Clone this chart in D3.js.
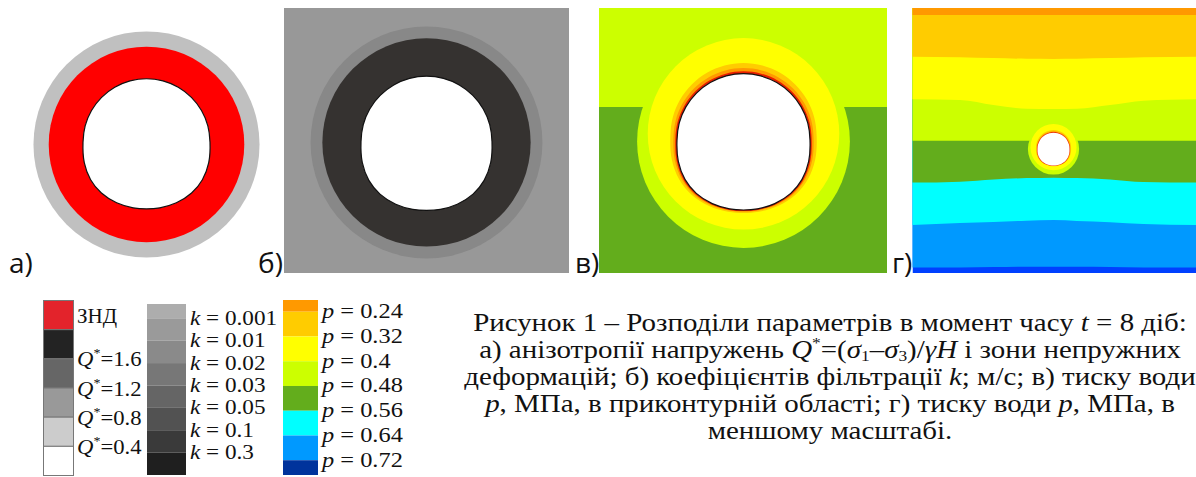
<!DOCTYPE html>
<html lang="uk">
<head>
<meta charset="utf-8">
<title>Рисунок 1</title>
<script src="https://cdn.jsdelivr.net/npm/d3@7"></script>
<style>
  body { margin: 0; background: #fff; }
  svg { display: block; }
  .serif { fill: #111; }
  .plabel { font-size: 28px; fill: #111; }
</style>
</head>
<body>
<svg id="fig" width="1196" height="477"></svg>
<script>
var SERIF = "Liberation Serif";
var SANS = "Open Sans";

// tunnel profile, right half from crown to invert (model units, y up)
var profileHalf = [[0, 1.02], [0.259, 0.986], [0.5, 0.886], [0.707, 0.727], [0.866, 0.52], [0.966, 0.279],
  [1.0, 0.02], [0.98, -0.3], [0.88, -0.57], [0.71, -0.78], [0.47, -0.934], [0.21, -1.013], [0, -1.03]];

// а) Q* zones around the opening (radius in profile units, centre shift)
var aZones = ["Q04", "ZND"];
var aZoneR = [1.78, 1.54];
var aZoneShift = [-0.015, -0.015];

// б) filtration zones
var bZones = ["k2", "k7"];
var bZoneR = [1.77, 1.59];
var bZoneShift = [0.008, 0.008];

// в) pressure zones near the contour: round zones, then thin bands that follow the profile
var vRings = ["p048", "p040"];
var vRingR = [1.6, 1.44];
var vRingShift = [0, 0.115];
var vBands = ["p032", "p024", "p016"];
var vBandSize = [1.1, 1.054, 1.025];
var vBandShift = [0.058, 0.03, 0.01];

// г) isobars, y of each level at the sample x positions
var isoX = [-9, -5.84, -3.76, -1.68, 0, 1.46, 3.54, 5.63, 9];
var isoLevels = [0.24, 0.32, 0.4, 0.48, 0.56, 0.64, 0.72];
var iso024 = [8.38, 8.38, 8.38, 8.38, 8.38, 8.38, 8.38, 8.38, 8.38];
var iso032 = [5.77, 5.74, 5.68, 5.64, 5.63, 5.64, 5.68, 5.74, 5.77];
var iso040 = [3.11, 3.06, 2.75, 2.52, 2.5, 2.52, 2.75, 3.02, 3.11];
var iso048 = [0.52, 0.52, 0.52, 0.52, 0.52, 0.52, 0.52, 0.52, 0.52];
var iso056 = [-2.1, -2.04, -1.9, -1.82, -1.79, -1.82, -1.9, -2.06, -2.1];
var iso064 = [-4.75, -4.63, -4.56, -4.48, -4.44, -4.5, -4.58, -4.69, -4.75];
var iso072 = [-7.4, -7.4, -7.38, -7.36, -7.36, -7.36, -7.38, -7.4, -7.4];
var isoY = [iso024, iso032, iso040, iso048, iso056, iso064, iso072];

// legends
var qLabels = ["1.6", "1.2", "0.8", "0.4"];
var kLabels = ["0.001", "0.01", "0.02", "0.03", "0.05", "0.1", "0.3"];
var pLabels = ["0.24", "0.32", "0.4", "0.48", "0.56", "0.64", "0.72"];

// colours
var aColor = d3.scaleOrdinal().domain(aZones).range(["#c0c0c0", "#ff0000"]);
var bColor = d3.scaleOrdinal().domain(bZones).range(["#888888", "#353230"]);
var vColor = d3.scaleOrdinal().domain(vRings.concat(vBands))
  .range(["#ccff00", "#ffff00", "#ffcc00", "#ff9900", "#e82000"]);
var pColors = ["#ff9900", "#ffcc00", "#ffff00", "#ccff00", "#63ad1c", "#00ffff", "#0099ff", "#0040ff"];
var pLegendColors = ["#ff9900", "#ffcc00", "#ffff00", "#ccff00", "#63ad1c", "#00ffff", "#0099ff", "#00339c"];
var qColors = ["#e3232b", "#232323", "#666666", "#999999", "#cccccc", "#ffffff"];
var kColors = ["#adadad", "#9a9a9a", "#8a8a8a", "#777777", "#656565", "#525252", "#3a3a3a", "#1f1f1f"];

var profile = profileHalf.concat(profileHalf.slice(1, -1).reverse().map(function(p) { return [-p[0], p[1]]; }));

var svg = d3.select("#fig");
var defs = svg.append("defs");

function panelScales(cx, cy, s) {
  return {
    x: d3.scaleLinear().domain([-1, 1]).range([cx - s, cx + s]),
    y: d3.scaleLinear().domain([-1, 1]).range([cy + s, cy - s])
  };
}

function shapePath(sc, size, shift) {
  return d3.line()
    .x(function(d) { return sc.x(d[0] * size); })
    .y(function(d) { return sc.y(d[1] * size + shift); })
    .curve(d3.curveCatmullRomClosed)(profile);
}

function rounds(g, sc, keys, radii, shifts, color) {
  g.selectAll("circle.zone").data(keys).enter().append("circle")
    .attr("class", "zone")
    .attr("cx", sc.x(0))
    .attr("cy", function(d, i) { return sc.y(shifts[i]); })
    .attr("r", function(d, i) { return sc.x(radii[i]) - sc.x(0); })
    .attr("fill", function(d) { return color(d); });
}

function panelGroup(id, x0, y0, x1, y1) {
  defs.append("clipPath").attr("id", id).append("rect")
    .attr("x", x0).attr("y", y0).attr("width", x1 - x0).attr("height", y1 - y0);
  return svg.append("g").attr("clip-path", "url(#" + id + ")");
}

function hole(g, sc, stroke) {
  g.append("path").attr("d", shapePath(sc, 1, 0))
    .attr("fill", "#fff")
    .attr("stroke", stroke ? "#111" : "none")
    .attr("stroke-width", 1.2);
}

// ---- а)
var scA = panelScales(146.5, 143.5, 63.5);
var gA = svg.append("g");
rounds(gA, scA, aZones, aZoneR, aZoneShift, aColor);
hole(gA, scA, true);

// ---- б)
var scB = panelScales(426.5, 143, 65.5);
var gB = panelGroup("clipB", 284, 8, 569, 273);
gB.append("rect").attr("x", 284).attr("y", 8).attr("width", 285).attr("height", 265).attr("fill", "#989898");
rounds(gB, scB, bZones, bZoneR, bZoneShift, bColor);
hole(gB, scB, true);

// isobar areas: each level fills everything above its line
function isobars(g, sc, x0, y0, x1, y1, levels) {
  g.append("rect").attr("x", x0).attr("y", y0).attr("width", x1 - x0).attr("height", y1 - y0)
    .attr("fill", pColors[levels[levels.length - 1] + 1]);
  levels.slice().reverse().forEach(function(li) {
    var area = d3.area()
      .x(function(d, i) { return sc.x(isoX[i]); })
      .y0(y0 - 5)
      .y1(function(d) { return sc.y(d); })
      .curve(d3.curveMonotoneX);
    g.append("path").attr("d", area(isoY[li])).attr("fill", pColors[li]);
  });
}

function pressureZones(g, sc) {
  rounds(g, sc, vRings, vRingR, vRingShift, vColor);
  g.selectAll("path.band").data(vBands).enter().append("path")
    .attr("class", "band")
    .attr("d", function(d, i) { return shapePath(sc, vBandSize[i], vBandShift[i]); })
    .attr("fill", function(d) { return vColor(d); });
}

// ---- в)
var scV = panelScales(743.5, 141.5, 66.5);
var gV = panelGroup("clipV", 599, 8, 887, 273);
isobars(gV, scV, 599, 8, 887, 273, [3]);
pressureZones(gV, scV);
hole(gV, scV, true);

// ---- г)
var scG = panelScales(1053.5, 149, 16);
var gG = panelGroup("clipG", 912.5, 8, 1196, 273);
isobars(gG, scG, 912.5, 8, 1196, 273, [0, 1, 2, 3, 4, 5, 6]);
pressureZones(gG, scG);
hole(gG, scG, false);

// panel letters
var letters = ["а)", "б)", "в)", "г)"];
var letterX = [9, 258, 575, 892];
svg.selectAll("text.plabel").data(letters).enter().append("text")
  .attr("class", "plabel")
  .attr("font-family", SANS)
  .attr("x", function(d, i) { return letterX[i]; })
  .attr("y", 273)
  .text(function(d) { return d; });

function legendText(g, x, y, size, stretch) {
  return g.append("text").attr("class", "serif")
    .attr("font-family", SERIF).attr("font-size", size)
    .attr("transform", "translate(" + x + "," + y + ") scale(" + stretch + ",1)");
}

// ---- legend Q*
var qy = d3.scaleLinear().domain([0, 6]).range([300, 475]);
var gQ = svg.append("g");
gQ.selectAll("rect").data(qColors).enter().append("rect")
  .attr("x", 43.5).attr("width", 30)
  .attr("y", function(d, i) { return qy(i) + 0.5; })
  .attr("height", function(d, i) { return qy(i + 1) - qy(i); })
  .attr("fill", function(d) { return d; })
  .attr("stroke", "#777").attr("stroke-width", 1);
legendText(gQ, 77, qy(0.5) + 8, 21, 1).text("ЗНД");
qLabels.forEach(function(v, i) {
  var t = legendText(gQ, 77, qy(i + 2) + 8, 21, 1.08);
  t.append("tspan").attr("font-style", "italic").text("Q");
  t.append("tspan").attr("font-size", 13).attr("dy", -9).text("*");
  t.append("tspan").attr("dy", 9).text("=" + v);
});

// ---- legend k
var ky = d3.scaleLinear().domain([1, 8]).range([318.3, 475]);
var gK = svg.append("g");
gK.selectAll("rect").data(kColors).enter().append("rect")
  .attr("x", 147).attr("width", 39)
  .attr("y", function(d, i) { return i === 0 ? 304 : ky(i); })
  .attr("height", function(d, i) { return ky(i + 1) - (i === 0 ? 304 : ky(i)); })
  .attr("fill", function(d) { return d; });
kLabels.forEach(function(v, i) {
  var t = legendText(gK, 190, ky(i + 1) + 6.5, 20, 1.16);
  t.append("tspan").attr("font-style", "italic").text("k");
  t.append("tspan").text(" = " + v);
});

// ---- legend p
var py = d3.scaleLinear().domain([1, 8]).range([311.7, 485]);
var gP = svg.append("g");
gP.selectAll("rect").data(pLegendColors).enter().append("rect")
  .attr("x", 283).attr("width", 35)
  .attr("y", function(d, i) { return i === 0 ? 300 : py(i); })
  .attr("height", function(d, i) { return (i === 7 ? 475 : py(i + 1)) - (i === 0 ? 300 : py(i)); })
  .attr("fill", function(d) { return d; });
pLabels.forEach(function(v, i) {
  var t = legendText(gP, 322, py(i + 1) + 6.5, 20, 1.22);
  t.append("tspan").attr("font-style", "italic").text("p");
  t.append("tspan").text(" = " + v);
});

// ---- caption
var capLines = [
  [["Рисунок 1 – Розподіли параметрів в момент часу "], ["t", "i"], [" = 8 діб:"]],
  [["а) анізотропії напружень "], ["Q", "i"], ["*", "sup"], ["=("], ["σ", "i"], ["1", "sub"], ["–"], ["σ", "i"], ["3", "sub"], [")/"], ["γH", "i"], [" і зони непружних"]],
  [["деформацій; б) коефіцієнтів фільтрації "], ["k", "i"], ["; м/с; в) тиску води"]],
  [["p", "i"], [", МПа, в приконтурній області; г) тиску води "], ["p", "i"], [", МПа, в"]],
  [["меншому масштабі."]]
];
var capY = d3.scaleLinear().domain([0, 4]).range([331, 439]);
var capTexts = capLines.map(function(line) {
  var t = svg.append("text").attr("class", "serif")
    .attr("font-family", SERIF).attr("font-size", 25)
    .attr("text-anchor", "middle");
  var shift = 0;
  line.forEach(function(seg) {
    var s = t.append("tspan").text(seg[0]);
    var want = seg[1] === "sup" ? -10 : seg[1] === "sub" ? 3 : 0;
    if (want !== shift) { s.attr("dy", want - shift); shift = want; }
    if (seg[1] === "i") s.attr("font-style", "italic");
    if (seg[1] === "sup" || seg[1] === "sub") s.attr("font-size", 15);
  });
  return t;
});
var fx = 714 / capTexts[0].node().getComputedTextLength();
capTexts.forEach(function(t, li) {
  t.attr("transform", "translate(830," + capY(li) + ") scale(" + fx + ",1)");
});
</script>
</body>
</html>
